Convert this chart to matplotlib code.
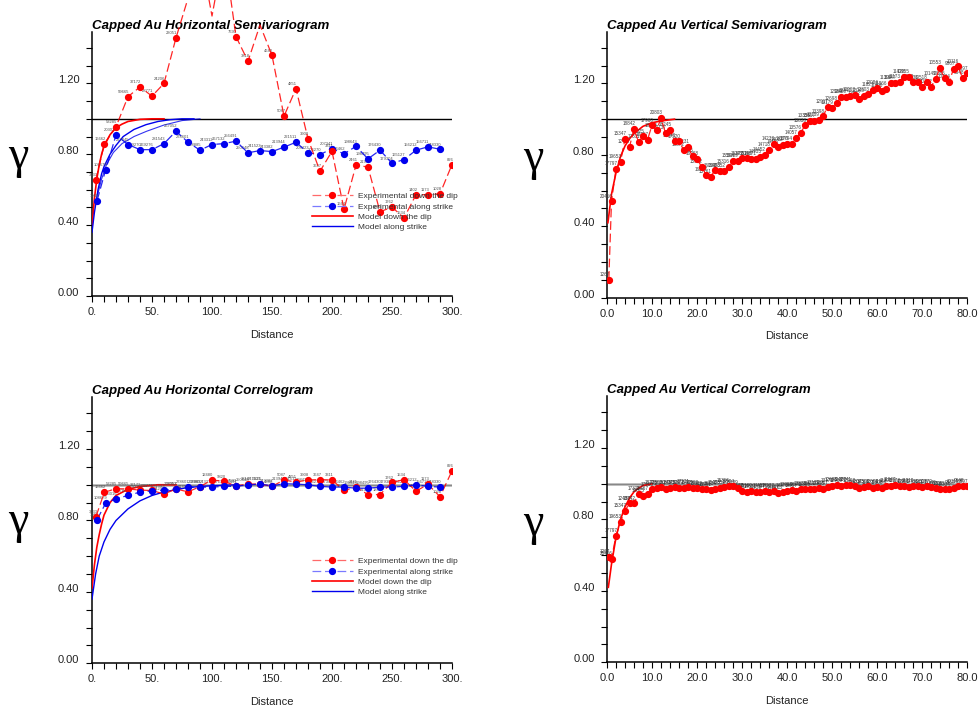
import matplotlib
matplotlib.use('Agg')
import matplotlib.pyplot as plt
from matplotlib.lines import Line2D
from matplotlib.ticker import MultipleLocator

# ---------------- data ----------------
# Horizontal lags (down the dip / along strike)
hz_dip_x = [3.3, 10.3, 20, 30, 40, 50, 60, 70, 80, 90, 100, 110, 120, 130, 140, 150,
            160, 170, 180, 190, 200, 210, 220, 230, 240, 250, 260, 270, 280, 290, 300]
hz_strike_x = [4.2, 11.4, 20, 30, 40, 50, 60, 70, 80, 90, 100, 110, 120, 130, 140, 150,
               160, 170, 180, 190, 200, 210, 220, 230, 240, 250, 260, 270, 280, 290]

hz_semi_dip = [0.657, 0.86, 0.955, 1.125, 1.18, 1.128, 1.2, 1.457, 1.68, 1.95, 1.58, 1.95,
               1.464, 1.325, 1.53, 1.358, 1.015, 1.17, 0.887, 0.704, 0.817, 0.49, 0.738,
               0.728, 0.475, 0.502, 0.44, 0.572, 0.572, 0.577, 0.742]
hz_semi_strike = [0.538, 0.713, 0.908, 0.855, 0.826, 0.826, 0.86, 0.93, 0.868, 0.823, 0.855,
                  0.86, 0.874, 0.808, 0.821, 0.815, 0.84, 0.868, 0.808, 0.798, 0.832, 0.802,
                  0.845, 0.774, 0.823, 0.749, 0.77, 0.823, 0.842, 0.828]

hz_corr_dip = [0.822, 0.958, 0.978, 0.977, 0.970, 0.968, 0.948, 0.977, 0.96, 0.99, 1.027,
               1.019, 0.994, 1.004, 1.004, 0.991, 1.027, 1.015, 1.027, 1.029, 1.027, 0.968,
               0.987, 0.945, 0.945, 1.013, 1.029, 0.964, 1.003, 0.933, 1.078]
hz_corr_strike = [0.804, 0.897, 0.922, 0.94, 0.959, 0.966, 0.968, 0.978, 0.987, 0.987, 0.987,
                  0.991, 0.991, 1.0, 1.004, 0.994, 1.006, 1.004, 1.0, 0.991, 0.987, 0.987,
                  0.981, 0.981, 0.987, 0.987, 0.991, 1.0, 0.991, 0.987]

hz_dip_pairs = [3533, 16662, 53285, 59665, 37172, 28771, 24206, 23051, 21412, 17963, 12480,
                9820, 7693, 3818, 5221, 4640, 5087, 4851, 3908, 3647, 3311, 1664, 2461, 2196,
                1883, 1762, 1534, 1402, 1173, 1028, 826]
hz_strike_pairs = [1960, 108679, 203016, 227845, 259270, 269276, 281543, 267052, 278601,
                   268885, 243312, 267132, 256491, 250648, 241523, 243382, 213944, 221511,
                   208423, 206270, 207341, 206462, 198643, 198495, 176430, 179304, 165127,
                   156212, 156711, 148330]

# Horizontal models
hz_semi_model_dip_x = [0, 2, 4, 6, 8, 10, 15, 20, 25, 30, 40, 50, 60]
hz_semi_model_dip_y = [0.39, 0.55, 0.66, 0.74, 0.80, 0.845, 0.91, 0.95, 0.97, 0.985, 0.997, 1.0, 1.0]
hz_semi_model_str_x = [0, 2, 5, 8, 10, 15, 20, 26, 35, 45, 55, 65, 75, 85]
hz_semi_model_str_y = [0.36, 0.47, 0.60, 0.69, 0.73, 0.80, 0.85, 0.90, 0.94, 0.967, 0.985, 0.995, 1.0, 1.0]
hz_semi_model_str2_x = [5, 8, 12, 17.8, 25, 35, 45.6, 60, 75, 90]
hz_semi_model_str2_y = [0.58, 0.66, 0.74, 0.81, 0.86, 0.90, 0.93, 0.965, 0.99, 1.0]

hz_corr_model_dip_x = [0, 2, 4, 6, 8, 10, 15, 20, 30, 40, 55, 70]
hz_corr_model_dip_y = [0.42, 0.55, 0.65, 0.72, 0.78, 0.83, 0.90, 0.94, 0.975, 0.99, 1.0, 1.0]
hz_corr_model_str_x = [0, 3, 6, 10, 15, 20, 30, 40, 50, 60, 80, 100, 120]
hz_corr_model_str_y = [0.36, 0.50, 0.60, 0.68, 0.75, 0.80, 0.865, 0.91, 0.94, 0.96, 0.985, 0.995, 1.0]

# Vertical lags
vt_x = [0.4, 1, 2, 3, 4, 5, 6, 7, 8, 9, 10, 11, 12, 13, 14, 15, 16, 17, 18, 19, 20,
        21, 22, 23, 24, 25, 26, 27, 28, 29, 30, 31, 32, 33, 34, 35, 36, 37, 38, 39, 40,
        41, 42, 43, 44, 45, 46, 47, 48, 49, 50, 51, 52, 53, 54, 55, 56, 57, 58, 59, 60,
        61, 62, 63, 64, 65, 66, 67, 68, 69, 70, 71, 72, 73, 74, 75, 76, 77, 78, 79, 80]
vt_semi = [0.10, 0.54, 0.72, 0.76, 0.89, 0.845, 0.946, 0.872, 0.904, 0.885, 0.965,
           0.937, 1.006, 0.922, 0.94, 0.88, 0.876, 0.83, 0.845, 0.793, 0.778,
           0.733, 0.69, 0.678, 0.713, 0.709, 0.709, 0.733, 0.765, 0.765, 0.78,
           0.78, 0.776, 0.776, 0.787, 0.798, 0.826, 0.861, 0.843, 0.857, 0.861,
           0.861, 0.894, 0.922, 0.965, 0.99, 0.99, 0.996, 1.015, 1.07, 1.065,
           1.089, 1.126, 1.126, 1.131, 1.135, 1.113, 1.13, 1.139, 1.163, 1.176,
           1.157, 1.169, 1.204, 1.204, 1.209, 1.237, 1.237, 1.209, 1.206, 1.181,
           1.206, 1.181, 1.224, 1.287, 1.228, 1.209, 1.28, 1.296, 1.231, 1.256]
vt_corr = [0.59, 0.58, 0.71, 0.785, 0.85, 0.89, 0.89, 0.945, 0.93, 0.945, 0.968,
           0.975, 0.98, 0.972, 0.978, 0.98, 0.975, 0.978, 0.982, 0.975, 0.978,
           0.972, 0.968, 0.965, 0.97, 0.975, 0.98, 0.99, 0.985, 0.975, 0.962,
           0.955, 0.958, 0.955, 0.952, 0.958, 0.955, 0.96, 0.948, 0.952, 0.962,
           0.965, 0.962, 0.968, 0.97, 0.968, 0.972, 0.975, 0.97, 0.98, 0.99,
           0.995, 0.99, 0.992, 0.995, 0.988, 0.978, 0.982, 0.985, 0.978, 0.982,
           0.975, 0.985, 0.99, 0.995, 0.99, 0.985, 0.982, 0.988, 0.985, 0.98,
           0.985, 0.982, 0.975, 0.972, 0.97, 0.968, 0.975, 0.985, 0.99, 0.985]
vt_pairs = [1267, 20416, 17797, 19653, 15347, 12437, 18842, 17311, 19025, 18467, 17960,
            18735, 20803, 17137, 18245, 16943, 17520, 16872, 17231, 16405, 16968, 15932,
            16287, 15761, 16034, 15473, 15852, 15316, 15594, 15109, 15377, 14892, 15160,
            14671, 14935, 14452, 14718, 14233, 14497, 14012, 14276, 13794, 14057, 13576,
            13838, 13355, 13617, 13139, 13398, 12917, 13179, 12698, 12960, 12480, 12741,
            12263, 12522, 12045, 12303, 11827, 12084, 11608, 11866, 11390, 11647, 11173,
            11428, 10955, 11210, 10736, 10991, 10518, 10772, 10149, 10553, 10085, 10334,
            9867, 10116, 9648, 9897]

vt_semi_model_x = [0.2, 1, 2, 3, 4, 5, 6, 8, 10, 12, 15]
vt_semi_model_y = [0.42, 0.58, 0.70, 0.79, 0.85, 0.89, 0.92, 0.96, 0.98, 0.99, 1.0]
vt_corr_model_x = [0.3, 1, 2, 3, 4, 5, 6, 7, 8, 10]
vt_corr_model_y = [0.42, 0.55, 0.70, 0.80, 0.87, 0.92, 0.955, 0.975, 0.99, 1.0]

sill = 1.0
hz_ticks = [0, 50, 100, 150, 200, 250, 300]
hz_ticklabels = ["0.", "50.", "100.", "150.", "200.", "250.", "300."]
vt_ticks = [0, 10, 20, 30, 40, 50, 60, 70, 80]
vt_ticklabels = ["0.0", "10.0", "20.0", "30.0", "40.0", "50.0", "60.0", "70.0", "80.0"]
y_ticks = [0.0, 0.4, 0.8, 1.2]
y_ticklabels = ["0.00", "0.40", "0.80", "1.20"]

titles = ["Capped Au Horizontal Semivariogram", "Capped Au Vertical Semivariogram",
          "Capped Au Horizontal Correlogram", "Capped Au Vertical Correlogram"]
legend_labels = ["Experimental down the dip", "Experimental along strike",
                 "Model down the dip", "Model along strike"]

# ---------------- figure ----------------
W, H = 979, 711
fig = plt.figure(figsize=(W / 100, H / 100), dpi=100)
SANS = ['Liberation Sans', 'DejaVu Sans']

def px_axes(left, bottom, width, height):
    return fig.add_axes([left / W, 1 - bottom / H, width / W, height / H])

ax_tl = px_axes(92, 296, 360, 264)
ax_tr = px_axes(607, 297.7, 360, 266)
ax_bl = px_axes(92, 663.3, 360, 266)
ax_br = px_axes(607, 662.3, 360, 266)

RED = '#ff0000'
BLUE = '#0000ee'
DASH = (0, (7, 3))

def style(ax, xmax, ticks, labels, minor, title):
    ax.set_xlim(0, xmax)
    ax.set_ylim(0, 1.49)
    for s in ['top', 'right']:
        ax.spines[s].set_visible(False)
    for s in ['left', 'bottom']:
        ax.spines[s].set_linewidth(1.1)
    ax.set_xticks(ticks)
    ax.set_xticklabels(labels, family=SANS, fontsize=8, color='#222222')
    ax.xaxis.set_minor_locator(MultipleLocator(minor))
    ax.set_yticks(y_ticks)
    ax.set_yticklabels(y_ticklabels, family=SANS, fontsize=8, color='#222222')
    ax.yaxis.set_minor_locator(MultipleLocator(0.1))
    ax.tick_params(which='both', direction='out', length=4, width=0.8)
    ax.tick_params(axis='y', pad=5)
    ax.tick_params(axis='x', pad=4)
    for lbl in ax.get_yticklabels():
        lbl.set_verticalalignment('baseline')
    ax.set_xlabel('Distance', family=SANS, fontsize=8, labelpad=9, color='#222222')
    ax.set_title(title, loc='left', family=SANS, fontsize=9.5, fontweight='bold',
                 fontstyle='italic', pad=2)
    ax.axhline(sill, xmin=0, xmax=1, color='black', lw=1.0, zorder=2)

def pair_labels(ax, xs, ys, ns, color='#505050', size=3):
    for x, y, n in zip(xs, ys, ns):
        ax.annotate(str(n), (x, y), xytext=(1, 2), textcoords='offset points',
                    ha='right', va='bottom', fontsize=size, color=color,
                    family=SANS, zorder=3)

def experimental(ax, xs, ys, color, clip=True):
    ax.plot(xs, ys, color=color, lw=0.9, ls=DASH, zorder=4, clip_on=clip, alpha=0.85)
    ax.plot(xs, ys, ls='none', marker='o', ms=4.2, mfc=color, mec=color, zorder=5)

def legend(ax, top_px):
    handles = [
        Line2D([], [], color='#ff6a6a', lw=0.9, ls=DASH, marker='o', ms=4.2, mfc=RED, mec=RED),
        Line2D([], [], color='#7a7aff', lw=0.9, ls=DASH, marker='o', ms=4.2, mfc=BLUE, mec=BLUE),
        Line2D([], [], color=RED, lw=1.2),
        Line2D([], [], color=BLUE, lw=1.0),
    ]
    leg = ax.legend(handles, legend_labels, loc='upper left',
                    bbox_to_anchor=(312 / W, 1 - top_px / H), bbox_transform=fig.transFigure,
                    frameon=False, prop={'family': SANS, 'size': 6}, handlelength=4.9,
                    handletextpad=0.6, labelspacing=0.3, borderpad=0, borderaxespad=0,
                    numpoints=1)
    for t in leg.get_texts():
        t.set_color('#333333')
    leg.set_zorder(6)

# Top-left: horizontal semivariogram
style(ax_tl, 300, hz_ticks, hz_ticklabels, 10, titles[0])
ax_tl.plot(hz_semi_model_dip_x, hz_semi_model_dip_y, color=RED, lw=1.2, zorder=3)
ax_tl.plot(hz_semi_model_str_x, hz_semi_model_str_y, color=BLUE, lw=1.0, zorder=3)
ax_tl.plot(hz_semi_model_str2_x, hz_semi_model_str2_y, color=BLUE, lw=0.8, zorder=3, alpha=0.8)
pair_labels(ax_tl, hz_dip_x, hz_semi_dip, hz_dip_pairs)
pair_labels(ax_tl, hz_strike_x, hz_semi_strike, hz_strike_pairs)
ax_tl.plot(hz_strike_x, hz_semi_strike, color=BLUE, lw=0.9, ls=DASH, zorder=4, alpha=0.85)
ax_tl.plot(hz_strike_x, hz_semi_strike, ls='none', marker='o', ms=4.2, mfc=BLUE, mec=BLUE, zorder=5)
experimental(ax_tl, hz_dip_x, hz_semi_dip, RED, clip=False)
legend(ax_tl, 192.5)

# Top-right: vertical semivariogram
style(ax_tr, 80, vt_ticks, vt_ticklabels, 2, titles[1])
ax_tr.plot(vt_semi_model_x, vt_semi_model_y, color=RED, lw=1.2, zorder=3)
pair_labels(ax_tr, vt_x, vt_semi, vt_pairs, color='#404040', size=3.3)
experimental(ax_tr, vt_x, vt_semi, RED)

# Bottom-left: horizontal correlogram
style(ax_bl, 300, hz_ticks, hz_ticklabels, 10, titles[2])
ax_bl.axhline(sill, color='#888888', lw=1.0, zorder=2)
ax_bl.plot(hz_corr_model_dip_x, hz_corr_model_dip_y, color=RED, lw=1.2, zorder=3)
ax_bl.plot(hz_corr_model_str_x, hz_corr_model_str_y, color=BLUE, lw=1.0, zorder=3)
pair_labels(ax_bl, hz_dip_x, hz_corr_dip, hz_dip_pairs)
pair_labels(ax_bl, hz_strike_x, hz_corr_strike, hz_strike_pairs)
experimental(ax_bl, hz_dip_x, hz_corr_dip, RED)
experimental(ax_bl, hz_strike_x, hz_corr_strike, BLUE)
legend(ax_bl, 557.5)

# Bottom-right: vertical correlogram
style(ax_br, 80, vt_ticks, vt_ticklabels, 2, titles[3])
ax_br.axhline(sill, color='#888888', lw=1.0, zorder=2)
ax_br.plot(vt_corr_model_x, vt_corr_model_y, color=RED, lw=1.2, zorder=3)
pair_labels(ax_br, vt_x, vt_corr, vt_pairs, color='#303030', size=3.3)
experimental(ax_br, vt_x, vt_corr, RED)

# gamma labels
for gx, gy in [(18.3, 156.7), (533.3, 158.3), (18.3, 521.7), (533.3, 523.3)]:
    fig.text(gx / W, 1 - gy / H, 'γ', fontsize=33, family=['Liberation Serif', 'DejaVu Serif'],
             ha='center', va='center')

fig.savefig('out.png', dpi=100)
